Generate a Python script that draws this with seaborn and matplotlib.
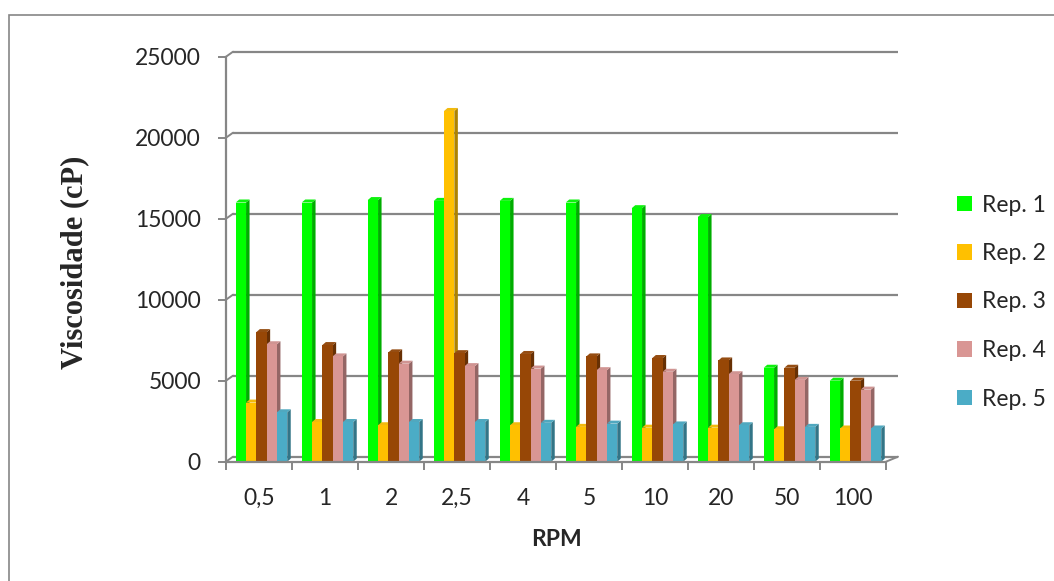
import pandas as pd
import seaborn as sns
import matplotlib.pyplot as plt
from matplotlib.patches import Polygon, Rectangle
from matplotlib.colors import to_rgb

# data
rpm = ["0,5", "1", "2", "2,5", "4", "5", "10", "20", "50", "100"]
reps = ["Rep. 1", "Rep. 2", "Rep. 3", "Rep. 4", "Rep. 5"]
rep1 = [16000, 16000, 16150, 16100, 16100, 16000, 15650, 15100, 5800, 5000]
rep2 = [3650, 2450, 2250, 21650, 2250, 2150, 2100, 2100, 2000, 2050]
rep3 = [8000, 7200, 6750, 6700, 6650, 6500, 6400, 6250, 5800, 5000]
rep4 = [7250, 6500, 6050, 5900, 5750, 5650, 5550, 5400, 5050, 4450]
rep5 = [3050, 2450, 2450, 2450, 2400, 2350, 2300, 2250, 2150, 2050]
y_ticks = [0, 5000, 10000, 15000, 20000, 25000]

colors = ["#00FF00", "#FFC000", "#974706", "#D99694", "#4BACC6"]
grid_color = "#868686"

rows = []
for name, vals in zip(reps, [rep1, rep2, rep3, rep4, rep5]):
    for r, v in zip(rpm, vals):
        rows.append((r, v, name))
df = pd.DataFrame(rows, columns=["RPM", "Viscosidade", "Rep"])

sns.set_style("white")
plt.rcParams['font.family'] = ['Lato', 'DejaVu Sans']

fig = plt.figure(figsize=(10.54, 5.81), dpi=100)
W, H = 1054, 581
ax_left, ax_right, ax_bot, ax_top = 226, 886, 461.7, 56.7
ax = fig.add_axes([ax_left / W, (H - ax_bot) / H, (ax_right - ax_left) / W, (ax_bot - ax_top) / H])

sns.barplot(data=df, x="RPM", y="Viscosidade", hue="Rep", order=rpm, hue_order=reps,
            palette=colors, width=0.78, saturation=1, errorbar=None, linewidth=0,
            legend=False, ax=ax, zorder=2)

ax.set_xlim(-0.5, 9.5)
ax.set_ylim(0, 25000)

# pixel -> data conversions for the fake 3D depth
px_x = 1.0 / 66.0
px_y = 25000 / (ax_bot - ax_top)
back_dy = 5 * px_y
left_dx = 7 * px_x
right_dx = 12 * px_x

# back wall gridlines and floor
for v in y_ticks:
    ax.plot([-0.5 + left_dx, 9.5 + right_dx], [v + back_dy, v + back_dy], color=grid_color,
            lw=1.6, zorder=0.5, clip_on=False, solid_capstyle="butt")
    ax.plot([-0.5, -0.5 + left_dx], [v, v + back_dy], color=grid_color, lw=1.4,
            zorder=0.5, clip_on=False)
ax.plot([9.5, 9.5 + right_dx], [0, back_dy], color=grid_color, lw=1.4, zorder=0.5, clip_on=False)

# side and top faces of the columns (columns sit slightly right of the slot centre)
dx = 3.5 * px_x
dy = 3 * px_y
shift = 2.5 * px_x
for p in list(ax.patches):
    p.set_x(p.get_x() + shift)
    x0, w, h = p.get_x(), p.get_width(), p.get_height()
    c = to_rgb(p.get_facecolor())
    dark = tuple(k * 0.68 for k in c)
    top = tuple(min(1, k * 0.9 + 0.05) for k in c)
    side = Polygon([(x0 + w, 0), (x0 + w + dx, dy), (x0 + w + dx, h + dy), (x0 + w, h)],
                   closed=True, facecolor=dark, edgecolor="none", zorder=1.9, clip_on=False)
    cap = Polygon([(x0, h), (x0 + dx, h + dy), (x0 + w + dx, h + dy), (x0 + w, h)],
                  closed=True, facecolor=top, edgecolor="none", zorder=1.9, clip_on=False)
    ax.add_patch(side)
    ax.add_patch(cap)

for s in ["top", "right"]:
    ax.spines[s].set_visible(False)
for s in ["left", "bottom"]:
    ax.spines[s].set_color(grid_color)
    ax.spines[s].set_linewidth(1.6)

ax.set_yticks(y_ticks)
ax.set_yticklabels([str(v) for v in y_ticks])
ax.tick_params(axis="y", length=6, width=1.4, color=grid_color, labelsize=16.5, pad=12,
               direction="out", left=True)
ax.set_xticks(range(len(rpm)))
ax.set_xticklabels(rpm)
ax.set_xticks([i - 0.5 for i in range(len(rpm) + 1)], minor=True)
ax.tick_params(axis="x", which="major", length=0, labelsize=16.5, pad=19)
ax.tick_params(axis="x", which="minor", length=6, width=1.4, color=grid_color, bottom=True)
ax.set_xlabel("")
ax.set_ylabel("")

fig.text(556.7 / W, 1 - 539 / H, "RPM", fontsize=16.5, fontweight="bold", ha="center", va="center")
fig.text(75 / W, 1 - 262 / H, "Viscosidade (cP)", fontsize=22, fontweight="bold",
         family="Liberation Serif", rotation=90, ha="center", va="center")

handles = [Rectangle((0, 0), 1, 1, facecolor=c, edgecolor="none") for c in colors]
fig.legend(handles, reps, loc="center left", bbox_to_anchor=(936 / W, 1 - 302 / H),
           frameon=False, fontsize=16.5, labelspacing=1.2, handlelength=0.65,
           handleheight=0.65, handletextpad=0.45)

# outer chart border (only left and top edges fall inside the image)
fig.patches.append(Rectangle((8.5 / W, -0.2), 1.2, 1.2 - 14.5 / H, transform=fig.transFigure,
                             fill=False, edgecolor=grid_color, lw=1.2))

fig.savefig("out.png", dpi=100)
